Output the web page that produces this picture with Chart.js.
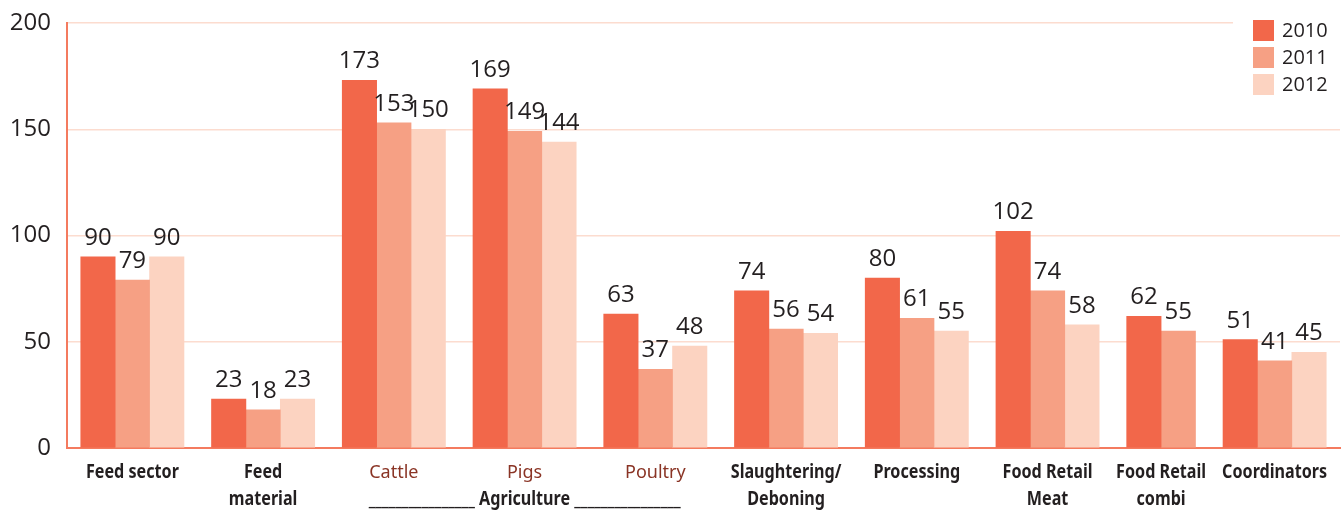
<!DOCTYPE html>
<html>
<head>
<meta charset="utf-8">
<script src="https://cdn.jsdelivr.net/npm/chart.js@4/dist/chart.umd.min.js"></script>
<style>
  html, body { margin: 0; padding: 0; background: #ffffff; }
  #wrap { width: 1343px; height: 511px; position: relative; }
</style>
</head>
<body>
<div id="wrap"><canvas id="chart"></canvas></div>
<script>
// Categories along the value chain (multi-line labels as arrays)
const categories = [
  'Feed sector',
  ['Feed', 'material'],
  'Cattle',
  'Pigs',
  'Poultry',
  ['Slaughtering/', 'Deboning'],
  'Processing',
  ['Food Retail', 'Meat'],
  ['Food Retail', 'combi'],
  'Coordinators'
];

// Sub-sectors that belong to the agriculture group
const agricultureItems = ['Cattle', 'Pigs', 'Poultry'];
const agricultureLabel = '________________ Agriculture ________________';

const years = ['2010', '2011', '2012'];
const values2010 = [90, 23, 173, 169, 63, 74, 80, 102, 62, 51];
const values2011 = [79, 18, 153, 149, 37, 56, 61, 74, 55, 41];
const values2012 = [90, 23, 150, 144, 48, 54, 55, 58, null, 45];

const yTicks = [0, 50, 100, 150, 200];

const seriesColors = ['#F2674A', '#F6A084', '#FCD3C1'];
const textDark = '#231F20';
const textBrown = '#8A3425';

// Place bars in "bar width" units: each category holds only its non-empty bars,
// separated by a fixed gap, so a category with a missing year stays compact.
const series = [values2010, values2011, values2012];
const GAP = 0.8;
const centers = [];
const points = series.map(() => []);
let cursor = GAP / 2;
categories.forEach((_, i) => {
  let slot = 0;
  series.forEach((s, k) => {
    if (s[i] !== null && s[i] !== undefined) {
      points[k].push({ x: cursor + slot + 0.5, y: s[i] });
      slot++;
    }
  });
  centers.push(cursor + slot / 2);
  cursor += slot + GAP;
});
const xMax = cursor - GAP / 2;

const toLines = (lbl) => Array.isArray(lbl) ? lbl : [lbl];
const isAgri = (i) => agricultureItems.includes(toLines(categories[i]).join(' '));

const labelFamily = '"Noto Sans", "Open Sans", sans-serif';
const LINE_1 = 30;   // first baseline below the axis
const LINE_2 = 57;   // second baseline below the axis

// Draw a line of text, optionally narrowed horizontally (condensed bold look)
function drawText(ctx, text, x, y, squeeze) {
  ctx.save();
  ctx.translate(x, y);
  ctx.scale(squeeze, 1);
  ctx.fillText(text, 0, 0);
  ctx.restore();
}

// Category labels under the x axis, placed at the scale's group centres
const categoryLabels = {
  id: 'categoryLabels',
  afterDraw(chart) {
    const xs = chart.scales.x;
    const ctx = chart.ctx;
    ctx.save();
    ctx.textAlign = 'center';
    ctx.textBaseline = 'alphabetic';
    categories.forEach((lbl, i) => {
      const x = xs.getPixelForValue(centers[i]);
      const agri = isAgri(i);
      ctx.font = agri ? '18px ' + labelFamily : 'bold 19px ' + labelFamily;
      ctx.fillStyle = agri ? textBrown : textDark;
      toLines(lbl).forEach((line, li) => {
        drawText(ctx, line, x, xs.top + (li === 0 ? LINE_1 : LINE_2), agri ? 1 : 0.85);
      });
    });
    // group caption spanning the agriculture sub-sectors
    const members = categories.map((c, i) => i).filter(isAgri);
    const first = xs.getPixelForValue(centers[members[0]]);
    const last = xs.getPixelForValue(centers[members[members.length - 1]]);
    ctx.font = 'bold 19px ' + labelFamily;
    ctx.fillStyle = textDark;
    drawText(ctx, agricultureLabel, (first + last) / 2, xs.top + LINE_2, 0.85);
    ctx.restore();
  }
};

// Value labels above each bar
const valueLabels = {
  id: 'valueLabels',
  afterDatasetsDraw(chart) {
    const ctx = chart.ctx;
    ctx.save();
    ctx.font = '24px "Open Sans", sans-serif';
    ctx.fillStyle = textDark;
    ctx.textAlign = 'center';
    ctx.textBaseline = 'alphabetic';
    chart.data.datasets.forEach((ds, di) => {
      const meta = chart.getDatasetMeta(di);
      meta.data.forEach((bar, j) => {
        ctx.fillText(String(ds.data[j].y), bar.x, bar.y - 12);
      });
    });
    ctx.restore();
  }
};

// Stacked legend in the top-right corner
const cornerLegend = {
  id: 'cornerLegend',
  afterDraw(chart) {
    const ctx = chart.ctx;
    ctx.save();
    ctx.fillStyle = '#ffffff';
    ctx.fillRect(1233, 0, 110, 100);
    ctx.font = '20px "Open Sans", sans-serif';
    ctx.textAlign = 'left';
    ctx.textBaseline = 'middle';
    chart.data.datasets.forEach((ds, i) => {
      const y = 20 + i * 27;
      ctx.fillStyle = ds.backgroundColor;
      ctx.fillRect(1253, y, 21, 21);
      ctx.fillStyle = textDark;
      ctx.fillText(ds.label, 1282, y + 11);
    });
    ctx.restore();
  }
};

new Chart(document.getElementById('chart'), {
  type: 'bar',
  data: {
    datasets: years.map((yr, k) => ({
      label: yr,
      data: points[k],
      backgroundColor: seriesColors[k],
      borderWidth: 0,
      grouped: false,
      categoryPercentage: 1,
      barPercentage: 1
    }))
  },
  options: {
    responsive: true,
    maintainAspectRatio: false,
    animation: false,
    layout: { padding: { top: 23, right: 3, left: 0, bottom: 0 } },
    plugins: {
      legend: { display: false },
      tooltip: { enabled: false }
    },
    scales: {
      x: {
        type: 'linear',
        offset: false,
        min: 0,
        max: xMax,
        afterBuildTicks: (scale) => {
          scale.ticks = centers.map(v => ({ value: v }));
        },
        afterFit: (scale) => {
          scale.height = 63;
          scale.paddingLeft = 0;
          scale.paddingRight = 0;
        },
        grid: { display: false, drawTicks: false, offset: false },
        border: { display: true, color: '#F47B5F', width: 2 },
        ticks: { display: false, autoSkip: false }
      },
      y: {
        min: 0,
        max: 200,
        afterBuildTicks: (scale) => {
          scale.ticks = yTicks.map(v => ({ value: v }));
        },
        afterFit: (scale) => {
          scale.width = 67;
          scale.paddingTop = 0;
          scale.paddingBottom = 0;
        },
        grid: { color: '#FCDCCF', lineWidth: 1.5, drawTicks: false },
        border: { display: true, color: '#F47B5F', width: 2 },
        ticks: {
          padding: 16,
          color: textDark,
          font: { family: '"Open Sans", sans-serif', size: 24 }
        }
      }
    }
  },
  plugins: [valueLabels, categoryLabels, cornerLegend]
});
</script>
</body>
</html>
